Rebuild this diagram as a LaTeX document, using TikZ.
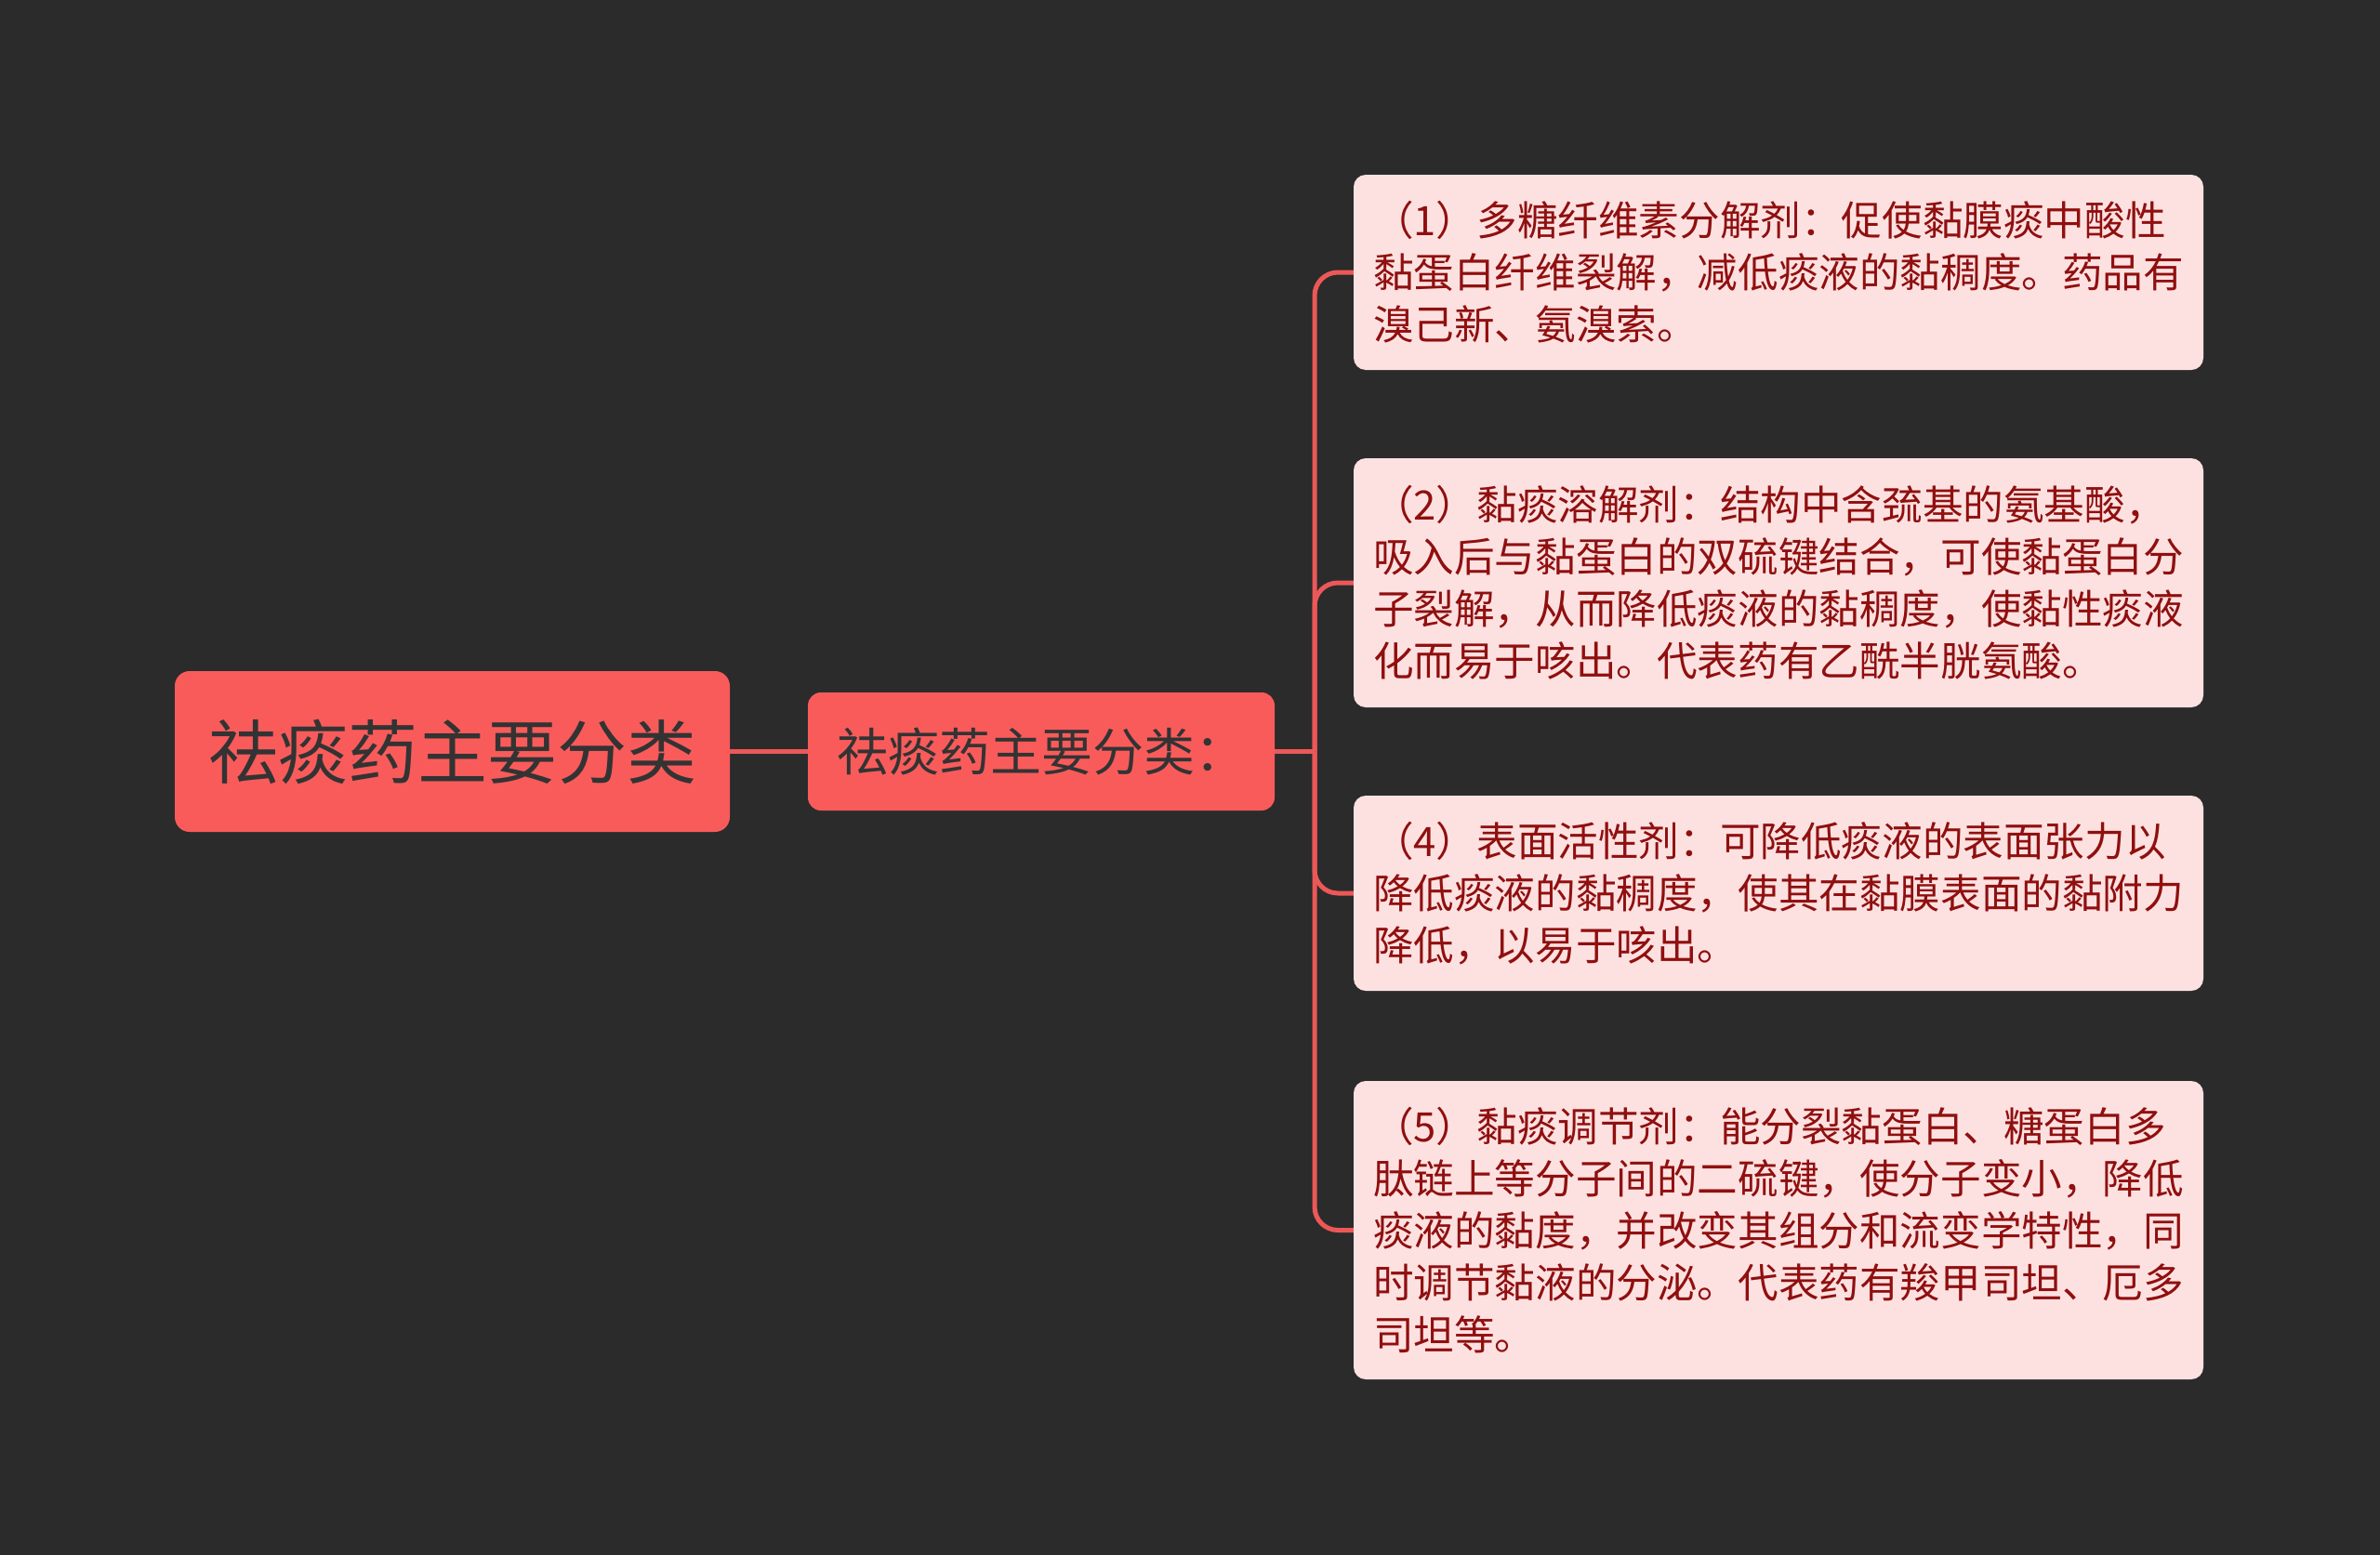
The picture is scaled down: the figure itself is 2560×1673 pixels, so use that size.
\documentclass[tikz,border=0pt]{standalone}
\usepackage{fontspec}
\setmainfont{Noto Sans CJK SC}
\definecolor{bg}{HTML}{2B2B2B}
\definecolor{rootred}{HTML}{F95B5B}
\definecolor{darktext}{HTML}{333333}
\definecolor{leafpink}{HTML}{FDE1E1}
\definecolor{leafred}{HTML}{900F0F}
\definecolor{connred}{HTML}{EC5858}
\begin{document}
\begin{tikzpicture}[x=1pt,y=-1pt,
  rootbox/.style={fill=rootred, rounded corners=16pt, minimum width=597pt, minimum height=173pt, inner sep=0pt, text=darktext, font=\fontsize{75}{90}\selectfont},
  midbox/.style={fill=rootred, rounded corners=14pt, minimum width=502pt, minimum height=127pt, inner sep=0pt, text=darktext, font=\fontsize{55}{66}\selectfont},
  leafbox/.style={fill=leafpink, rounded corners=13pt, minimum width=914pt, text width=872pt, align=left, inner sep=0pt, text=leafred, font=\fontsize{43.6}{56}\selectfont},
  conn/.style={draw=connred, line width=5pt}]
\useasboundingbox[fill=bg] (0,0) rectangle (2560,1673);

\node[rootbox] (root) at (486.5,808.5) {祛痰药主要分类};
\node[midbox] (mid) at (1120,808.5) {祛痰药主要分类：};

\node[leafbox, minimum height=210pt] (c1) at (1913,293) {（1）多糖纤维素分解剂：促使黏膜痰中酸性\\黏蛋白纤维裂解，减低痰液的黏稠度。药品有\\溴己新、氨溴索。};
\node[leafbox, minimum height=268pt] (c2) at (1913,627) {（2）黏痰溶解剂：结构中含巯基的氨基酸，\\吸入后与黏蛋白的双硫键结合，可使黏蛋白分\\子裂解，从而降低痰液的黏稠度，使黏性痰液\\化而易于咳出。代表药有乙酰半胱氨酸。};
\node[leafbox, minimum height=210pt] (c3) at (1913,961) {（4）表面活性剂：可降低痰液的表面张力以\\降低痰液的黏稠度，使其在黏膜表面的黏附力\\降低，以易于咳出。};
\node[leafbox, minimum height=321pt] (c4) at (1913,1323.5) {（5）黏痰调节剂：能分裂黏蛋白、糖蛋白多\\肽链上等分子间的二硫键，使分子变小，降低\\痰液的黏度，并改变其组分和流变学特性，同\\时调节黏液的分泌。代表药有羧甲司坦、厄多\\司坦等。};

\coordinate (sp) at (1414,808.5);
\draw[conn] (root.east) -- (mid.west);
\draw[conn] (mid.east) -- (sp);
\foreach \c in {c1,c2,c3,c4} {
  \draw[conn, rounded corners=25pt] (sp) |- (\c.west);
}
\end{tikzpicture}
\end{document}
